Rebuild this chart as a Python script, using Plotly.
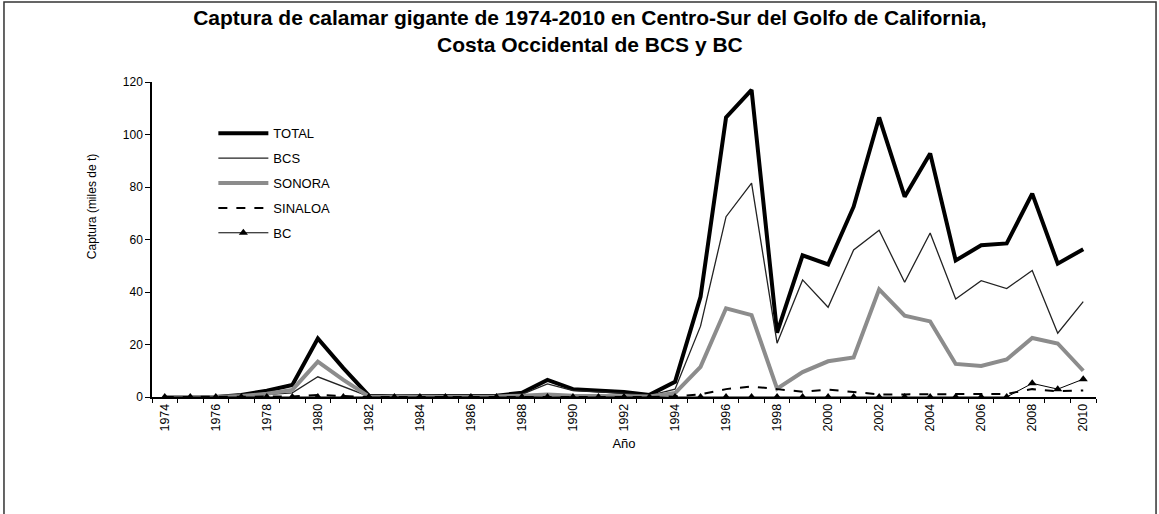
import plotly.graph_objects as go

# captura de calamar gigante (miles de t), 1974-2010
YEARS = list(range(1974, 2011))

TOTAL = [0, 0, 0, 0.8, 2.4, 4.6, 22.3, 11, 0.5, 0.3, 0.3, 0.3, 0.3, 0.5, 1.6, 6.5,
         3, 2.4, 1.9, 0.8, 5.8, 38.2, 106.5, 117, 24.5, 54, 50.5, 72.5, 106.5, 76.3,
         92.8, 52, 57.8, 58.5, 77.5, 50.8, 56.3]
BCS = [0, 0, 0, 0.3, 1, 1.6, 7.7, 3.8, 0.2, 0.1, 0.1, 0.1, 0.1, 0.3, 1, 5,
       2.4, 1.9, 1.4, 0.5, 3, 27, 68.7, 81.5, 20.5, 44.6, 34.2, 56, 63.5, 43.7,
       62.5, 37.3, 44.3, 41.3, 48.2, 24.3, 36.3]
SONORA = [0, 0, 0, 0.4, 1.2, 2.7, 13.5, 6.5, 0.2, 0.1, 0.1, 0.1, 0.1, 0.2, 0.5, 1,
          0.5, 0.4, 0.3, 0.2, 1.5, 11.5, 33.8, 31.2, 3.2, 9.5, 13.6, 15.1, 41, 31,
          28.8, 12.6, 11.8, 14.3, 22.5, 20.4, 10]
SINALOA = [0, 0, 0, 0, 0, 0.2, 0.8, 0.4, 0, 0, 0, 0, 0, 0, 0, 0,
           0, 0, 0, 0, 0.3, 1, 3, 4, 3, 2, 2.8, 2, 1, 1,
           1, 1, 1, 1.2, 3, 2.2, 2.5]
BC = [0, 0, 0, 0, 0, 0, 0, 0, 0, 0, 0, 0, 0, 0, 0, 0,
      0, 0, 0, 0, 0, 0, 0, 0, 0, 0, 0, 0, 0, 0,
      0, 0, 0, 0, 5.2, 3, 6.8]

TICK_YEARS = list(range(1974, 2011, 2))
TICK_TEXT = [str(y) for y in TICK_YEARS]
BOUNDARIES = [y + 0.5 for y in range(1973, 2011)]

FONT = "Liberation Sans, Arial, sans-serif"

fig = go.Figure()

# draw order: total, bcs, sonora, sinaloa, bc
fig.add_trace(go.Scatter(x=YEARS, y=TOTAL, name="TOTAL", mode="lines",
                         line=dict(color="black", width=4), legendgroup="a"))
fig.add_trace(go.Scatter(x=YEARS, y=BCS, name="BCS", mode="lines",
                         line=dict(color="#222222", width=1.3), legendgroup="b"))
fig.add_trace(go.Scatter(x=YEARS, y=SONORA, name="SONORA", mode="lines",
                         line=dict(color="#8c8c8c", width=4), legendgroup="c"))
fig.add_trace(go.Scatter(x=YEARS, y=SINALOA, name="SINALOA", mode="lines",
                         line=dict(color="black", width=2, dash="dash"), legendgroup="d"))
fig.add_trace(go.Scatter(x=YEARS, y=BC, name="BC", mode="lines+markers",
                         line=dict(color="black", width=1),
                         marker=dict(symbol="triangle-up", size=8, color="black"),
                         legendgroup="e"))

fig.update_layout(
    width=1159, height=514,
    margin=dict(l=152, r=63, t=82, b=117),
    paper_bgcolor="white", plot_bgcolor="white",
    font=dict(family=FONT, color="black", size=11),
    title=dict(
        text="<b>Captura de calamar gigante de 1974-2010 en Centro-Sur del Golfo de California,<br>Costa Occidental de BCS y BC</b>",
        x=0.509, xanchor="center", xref="container",
        y=0.952, yanchor="top", yref="container",
        font=dict(family=FONT, size=21),
    ),
    legend=dict(x=0.065, y=0.885, xanchor="left", yanchor="top",
                font=dict(size=13), bgcolor="rgba(0,0,0,0)", itemwidth=50,
                traceorder="grouped", tracegroupgap=5),
    showlegend=True,
)

fig.update_xaxes(
    range=[1973.5, 2010.5],
    tickvals=TICK_YEARS, ticktext=TICK_TEXT, tickangle=-90,
    ticks="", tickfont=dict(size=12.5),
    minor=dict(tickvals=BOUNDARIES, ticks="outside", ticklen=4, tickcolor="black"),
    showline=True, linecolor="black", linewidth=1.5,
    showgrid=False, zeroline=False,
    title=dict(text="Año", font=dict(size=13), standoff=8),
)
fig.update_yaxes(
    range=[0, 120], tickvals=[0, 20, 40, 60, 80, 100, 120],
    ticks="outside", ticklen=5, tickcolor="black", tickfont=dict(size=12),
    showline=True, linecolor="black", linewidth=1.5,
    showgrid=False, zeroline=False,
)

# y axis title sits above the middle of the axis in the original
fig.add_annotation(text="Captura (miles de t)", textangle=-90,
                   xref="paper", yref="paper", x=-0.073, y=0.603,
                   showarrow=False, font=dict(size=12))

# outer frame of the original figure
fig.add_shape(type="rect", xref="paper", yref="paper",
              x0=-0.1568, x1=1.0636, y0=-0.40, y1=1.254,
              line=dict(color="#333333", width=1.5), fillcolor="rgba(0,0,0,0)")

fig.write_html("out.html", config={"displayModeBar": False},
               post_script="document.body.style.margin='0';")
